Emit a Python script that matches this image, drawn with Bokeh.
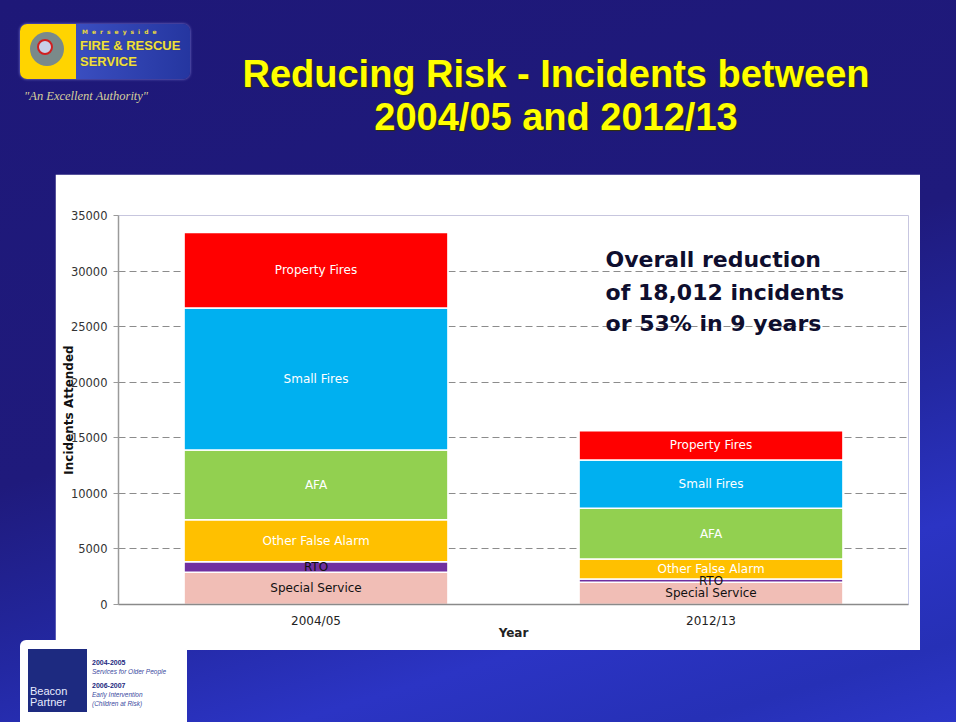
from bokeh.plotting import figure
from bokeh.models import (ColumnDataSource, FactorRange, Range1d, FixedTicker, Label, Div, Spacer)
from bokeh.layouts import column, row
from bokeh.core.properties import value
from bokeh.embed import file_html
from bokeh.resources import INLINE

# ---------------- data ----------------
years = ["2004/05", "2012/13"]
special_service = [2900, 2000]
rto = [940, 300]
other_false_alarm = [3780, 1800]
afa = [6290, 4550]
small_fires = [12770, 4350]
property_fires = [6790, 2640]

series_keys = ["special_service", "rto", "other_false_alarm", "afa", "small_fires", "property_fires"]
series_names = ["Special Service", "RTO", "Other False Alarm", "AFA", "Small Fires", "Property Fires"]
series_colors = ["#F1BEB6", "#7030A0", "#FFC000", "#92D050", "#00B0F0", "#FF0000"]
label_colors = ["#111111", "#111111", "#FFFFFF", "#FFFFFF", "#FFFFFF", "#FFFFFF"]
y_ticks = [0, 5000, 10000, 15000, 20000, 25000, 30000, 35000]

title_line1 = "Reducing Risk - Incidents between"
title_line2 = "2004/05 and 2012/13"
note_lines = ["Overall reduction", "of 18,012  incidents", "or 53%  in 9 years"]

data = dict(year=years, special_service=special_service, rto=rto,
            other_false_alarm=other_false_alarm, afa=afa,
            small_fires=small_fires, property_fires=property_fires)
source = ColumnDataSource(data)

# label positions (segment centres) computed from the data
lx, ly, lt, lc = [], [], [], []
for i, yr in enumerate(years):
    base = 0
    for key, name, col in zip(series_keys, series_names, label_colors):
        v = data[key][i]
        lx.append(yr)
        ly.append(base + v / 2)
        lt.append(name)
        lc.append(col)
        base += v
label_src = ColumnDataSource(dict(x=lx, y=ly, text=lt, color=lc))

# ---------------- figure ----------------
p = figure(x_range=FactorRange(*years), y_range=Range1d(0, 35000),
           width=865, height=476, output_backend="svg", toolbar_location=None,
           min_border_left=63, min_border_right=12, min_border_top=41, min_border_bottom=46)
p.border_fill_color = "white"
p.background_fill_color = "white"
p.outline_line_color = None

p.vbar_stack(series_keys, x="year", width=0.668, color=series_colors, source=source,
             line_color="white", line_width=1.5)

p.text(x="x", y="y", text="text", source=label_src, text_color="color",
       text_font=value("DejaVu Sans"), text_font_size="12px",
       text_align="center", text_baseline="middle")

# y axis
p.yaxis.ticker = FixedTicker(ticks=y_ticks)
p.yaxis.axis_label = "Incidents Attended"
p.yaxis.axis_label_text_font = "DejaVu Sans"
p.yaxis.axis_label_text_font_style = "bold"
p.yaxis.axis_label_text_font_size = "12px"
p.yaxis.axis_label_text_color = "#111111"
p.yaxis.axis_label_standoff = -8
p.yaxis.major_label_text_font = "DejaVu Sans"
p.yaxis.major_label_text_font_size = "11.5px"
p.yaxis.major_label_text_color = "#333333"
p.yaxis.major_label_standoff = 6
p.yaxis.major_tick_out = 5
p.yaxis.major_tick_in = 0
p.yaxis.minor_tick_line_color = None
p.yaxis.axis_line_color = "#9a9a9a"
p.yaxis.axis_line_width = 1.5
p.yaxis.major_tick_line_color = "#9a9a9a"

# x axis
p.xaxis.axis_label = "Year"
p.xaxis.axis_label_text_font = "DejaVu Sans"
p.xaxis.axis_label_text_font_style = "bold"
p.xaxis.axis_label_text_font_size = "12px"
p.xaxis.axis_label_text_color = "#222222"
p.xaxis.axis_label_standoff = -5
p.xaxis.major_label_text_font = "DejaVu Sans"
p.xaxis.major_label_text_font_size = "12px"
p.xaxis.major_label_text_color = "#222222"
p.xaxis.major_label_standoff = 3
p.xaxis.major_tick_line_color = None
p.xaxis.axis_line_color = "#8a8a8a"
p.xaxis.axis_line_width = 1.5

# grid
p.xgrid.grid_line_color = None
p.ygrid.grid_line_color = "#8c8c8c"
p.ygrid.grid_line_dash = "7 4"
p.ygrid.grid_line_width = 1

# annotation text
note_y = [31020, 28050, 25260]
for txt, yy in zip(note_lines, note_y):
    p.add_layout(Label(x=1.233, y=yy, text=txt, text_font="DejaVu Sans",
                       text_font_style="bold", text_font_size="22px",
                       text_color="#0e0e2e", text_baseline="alphabetic",
                       text_align="left"))

# ---------------- slide decorations ----------------
header_html = f"""
<div style="position:relative;width:956px;height:174px;overflow:visible;">
  <div style="position:absolute;left:20px;top:24px;width:170px;height:55px;border-radius:7px;
              background:linear-gradient(90deg,#ffd400 0px,#ffd400 56px,#3a4ec0 56px,#2536a0 170px);
              box-shadow:0 0 3px #8888dd;"></div>
  <div style="position:absolute;left:30px;top:32px;width:34px;height:34px;border-radius:50%;
              background:#7a8a8a;"></div>
  <div style="position:absolute;left:37px;top:39px;width:16px;height:16px;border-radius:50%;
              border:2px solid #d02020;background:#c8d0e8;"></div>
  <div style="position:absolute;left:82px;top:28px;font:bold 6px 'DejaVu Sans';letter-spacing:4px;color:#e8d840;">Merseyside</div>
  <div style="position:absolute;left:80px;top:38px;font:bold 13px 'Liberation Sans';color:#f0e040;
              text-shadow:0 0 1px #444;">FIRE &amp; RESCUE</div>
  <div style="position:absolute;left:80px;top:54px;font:bold 13px 'Liberation Sans';color:#f0e040;
              text-shadow:0 0 1px #444;">SERVICE</div>
  <div style="position:absolute;left:24px;top:89px;font:italic 12.5px 'Liberation Serif';color:#d6cf9c;">"An Excellent Authority"</div>
  <div style="position:absolute;left:156px;top:55px;width:800px;text-align:center;
              font:bold 38px/38px 'Liberation Sans';color:#ffff00;white-space:nowrap;
              text-shadow:1px 1px 1px #333300;">{title_line1}</div>
  <div style="position:absolute;left:156px;top:98px;width:800px;text-align:center;
              font:bold 38px/38px 'Liberation Sans';color:#ffff00;white-space:nowrap;
              text-shadow:1px 1px 1px #333300;">{title_line2}</div>
</div>
"""
header = Div(text=header_html, width=956, height=174, margin=0)

footer_html = """
<div style="position:relative;width:956px;height:72px;overflow:visible;">
  <div style="position:absolute;left:20px;top:-10px;width:167px;height:82px;border-radius:6px 6px 0 0;
              background:#ffffff;"></div>
  <div style="position:absolute;left:28px;top:-1px;width:59px;height:63px;background:#1d2a80;"></div>
  <div style="position:absolute;left:30px;top:36px;font:11px 'Liberation Sans';line-height:11px;color:#e8ecff;">Beacon<br>Partner</div>
  <div style="position:absolute;left:92px;top:9px;font:bold 7px 'Liberation Sans';color:#1d2a80;">2004-2005</div>
  <div style="position:absolute;left:92px;top:18px;font:italic 6.5px 'Liberation Sans';color:#3a4aa0;">Services for Older People</div>
  <div style="position:absolute;left:92px;top:32px;font:bold 7px 'Liberation Sans';color:#1d2a80;">2006-2007</div>
  <div style="position:absolute;left:92px;top:41px;font:italic 6.5px 'Liberation Sans';color:#3a4aa0;">Early Intervention</div>
  <div style="position:absolute;left:92px;top:50px;font:italic 6.5px 'Liberation Sans';color:#3a4aa0;">(Children at Risk)</div>
</div>
"""
footer = Div(text=footer_html, width=956, height=72, margin=0)

mid = row(Spacer(width=55, height=476), p, Spacer(width=36, height=476),
          width=956, height=476)

layout = column(header, mid, footer, width=956, height=722,
                styles={"background": "linear-gradient(163deg, #1e1878 0%, #1f1a7c 48%, #2328a2 66%, #2b34c4 80%, #2630b6 92%, #2c36c8 100%)"})

open("out.html", "w").write(file_html(layout, INLINE))
